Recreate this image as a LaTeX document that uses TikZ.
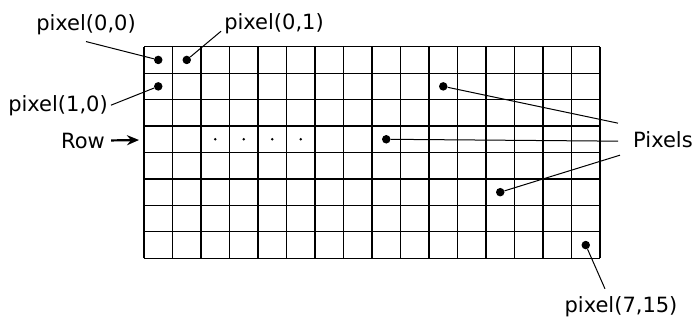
\documentclass[tikz,border=0pt]{standalone}
\usepackage{fontspec}
\setmainfont{DejaVu Sans}
\usetikzlibrary{arrows.meta,positioning}

\begin{document}
\begin{tikzpicture}[x=1pt,y=1pt,>=Stealth,font=\fontsize{21}{25}\selectfont,
   lbl/.style={inner sep=3pt,anchor=base},
   dot/.style={circle,fill,inner sep=0pt,minimum size=8.5pt},
   tinydot/.style={circle,fill,inner sep=0pt,minimum size=2.6pt},
   lead/.style={line width=1pt},
   gridline/.style={line width=1.2pt}]
  \useasboundingbox (0,0) rectangle (694,322);
  % 16 x 8 pixel grid
  \begin{scope}[shift={(144,63.7)},x=28.5pt,y=26.45pt]
    \foreach \c in {0,...,16}
      \draw[gridline] (\c,0) -- (\c,8);
    \foreach \r in {0,...,8}
      \draw[gridline] (0,\r) -- (16,\r);
    \node[dot] (p00)  at (0.5,7.5) {};
    \node[dot] (p01)  at (1.5,7.5) {};
    \node[dot] (p10)  at (0.5,6.5) {};
    \node[dot] (pa)   at (10.5,6.5) {};
    \node[dot] (pb)   at (8.5,4.5) {};
    \node[dot] (pc)   at (12.5,2.5) {};
    \node[dot] (p715) at (15.5,0.5) {};
    \foreach \c in {2,...,5}
      \node[tinydot] (r\c) at (\c+0.5,4.5) {};
  \end{scope}
  % labels
  \node[lbl] (l00)  at (86,291) {pixel(0,0)};
  \node[lbl] (l01)  at (274,292) {pixel(0,1)};
  \node[lbl] (l10)  at (58,211) {pixel(1,0)};
  \node[lbl] (row)  at (83,174) {Row};
  \node[lbl,anchor=base west] (pix) at (630,175) {Pixels};
  \node[lbl] (l715) at (621,10) {pixel(7,15)};
  \coordinate (rowtip) at (139,182);
  \coordinate (pxa) at ([shift={(-12pt,16pt)}]pix.west);
  \coordinate (pxb) at ([shift={(-12pt,-2pt)}]pix.west);
  \coordinate (pxc) at ([shift={(-10pt,-16pt)}]pix.west);
  % leaders
  \draw[lead] ([yshift=-3pt]l00.south) -- (p00);
  \draw[lead] ([yshift=-7pt]l01.west) -- (p01);
  \draw[lead] (l10.east) -- (p10);
  \draw[-{Stealth[length=12pt,width=10pt]},line width=2.2pt,shorten <=3pt] (row.east) -- (rowtip);
  \draw[lead] (pxa) -- (pa);
  \draw[lead] (pxb) -- (pb);
  \draw[lead] (pxc) -- (pc);
  \draw[lead] ([shift={(-16pt,4pt)}]l715.north) -- (p715);
\end{tikzpicture}
\end{document}
